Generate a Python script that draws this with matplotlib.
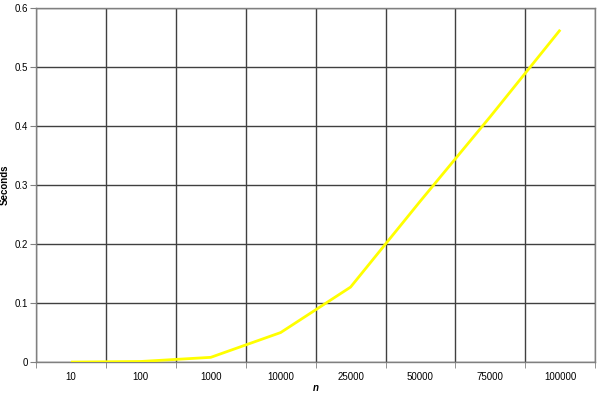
import numpy as np
import matplotlib.pyplot as plt

plt.rcParams['font.family'] = ['Liberation Sans', 'DejaVu Sans']

labels = ["10", "100", "1000", "10000", "25000", "50000", "75000", "100000"]
seconds = [0.0, 0.001, 0.008, 0.05, 0.127, 0.273, 0.416, 0.563]

fig = plt.figure(figsize=(6, 3.97), dpi=100)
ax = fig.add_axes([0.06, 0.088, 0.932, 0.892])

x = np.arange(len(labels))
ax.plot(x, seconds, color="#ffff00", lw=2, zorder=3, solid_capstyle="butt")

ax.set_xlim(-0.5, len(labels) - 0.5)
ax.set_ylim(0, 0.6)
ax.set_yticks(np.arange(0, 0.61, 0.1))
ax.set_yticklabels(["0", "0.1", "0.2", "0.3", "0.4", "0.5", "0.6"])
ax.set_xticks(x)
ax.set_xticklabels(labels)
ax.set_xticks(np.arange(-0.5, len(labels), 1), minor=True)

ax.tick_params(axis="x", which="major", length=0, pad=7, labelsize=7)
ax.tick_params(axis="x", which="minor", length=4, color="#808080", direction="out")
ax.tick_params(axis="y", length=4, color="#808080", labelsize=7, pad=2)

ax.grid(True, axis="y", color="#404040", lw=1)
ax.grid(True, axis="x", which="minor", color="#404040", lw=1)
ax.set_axisbelow(True)

for s in ax.spines.values():
    s.set_color("#808080")
    s.set_linewidth(1)

ax.set_ylabel("Seconds", fontsize=7, fontweight="bold", labelpad=3)
ax.set_xlabel("n", fontsize=7, fontweight="bold", style="italic", labelpad=1)

fig.savefig("out.png", dpi=100)
